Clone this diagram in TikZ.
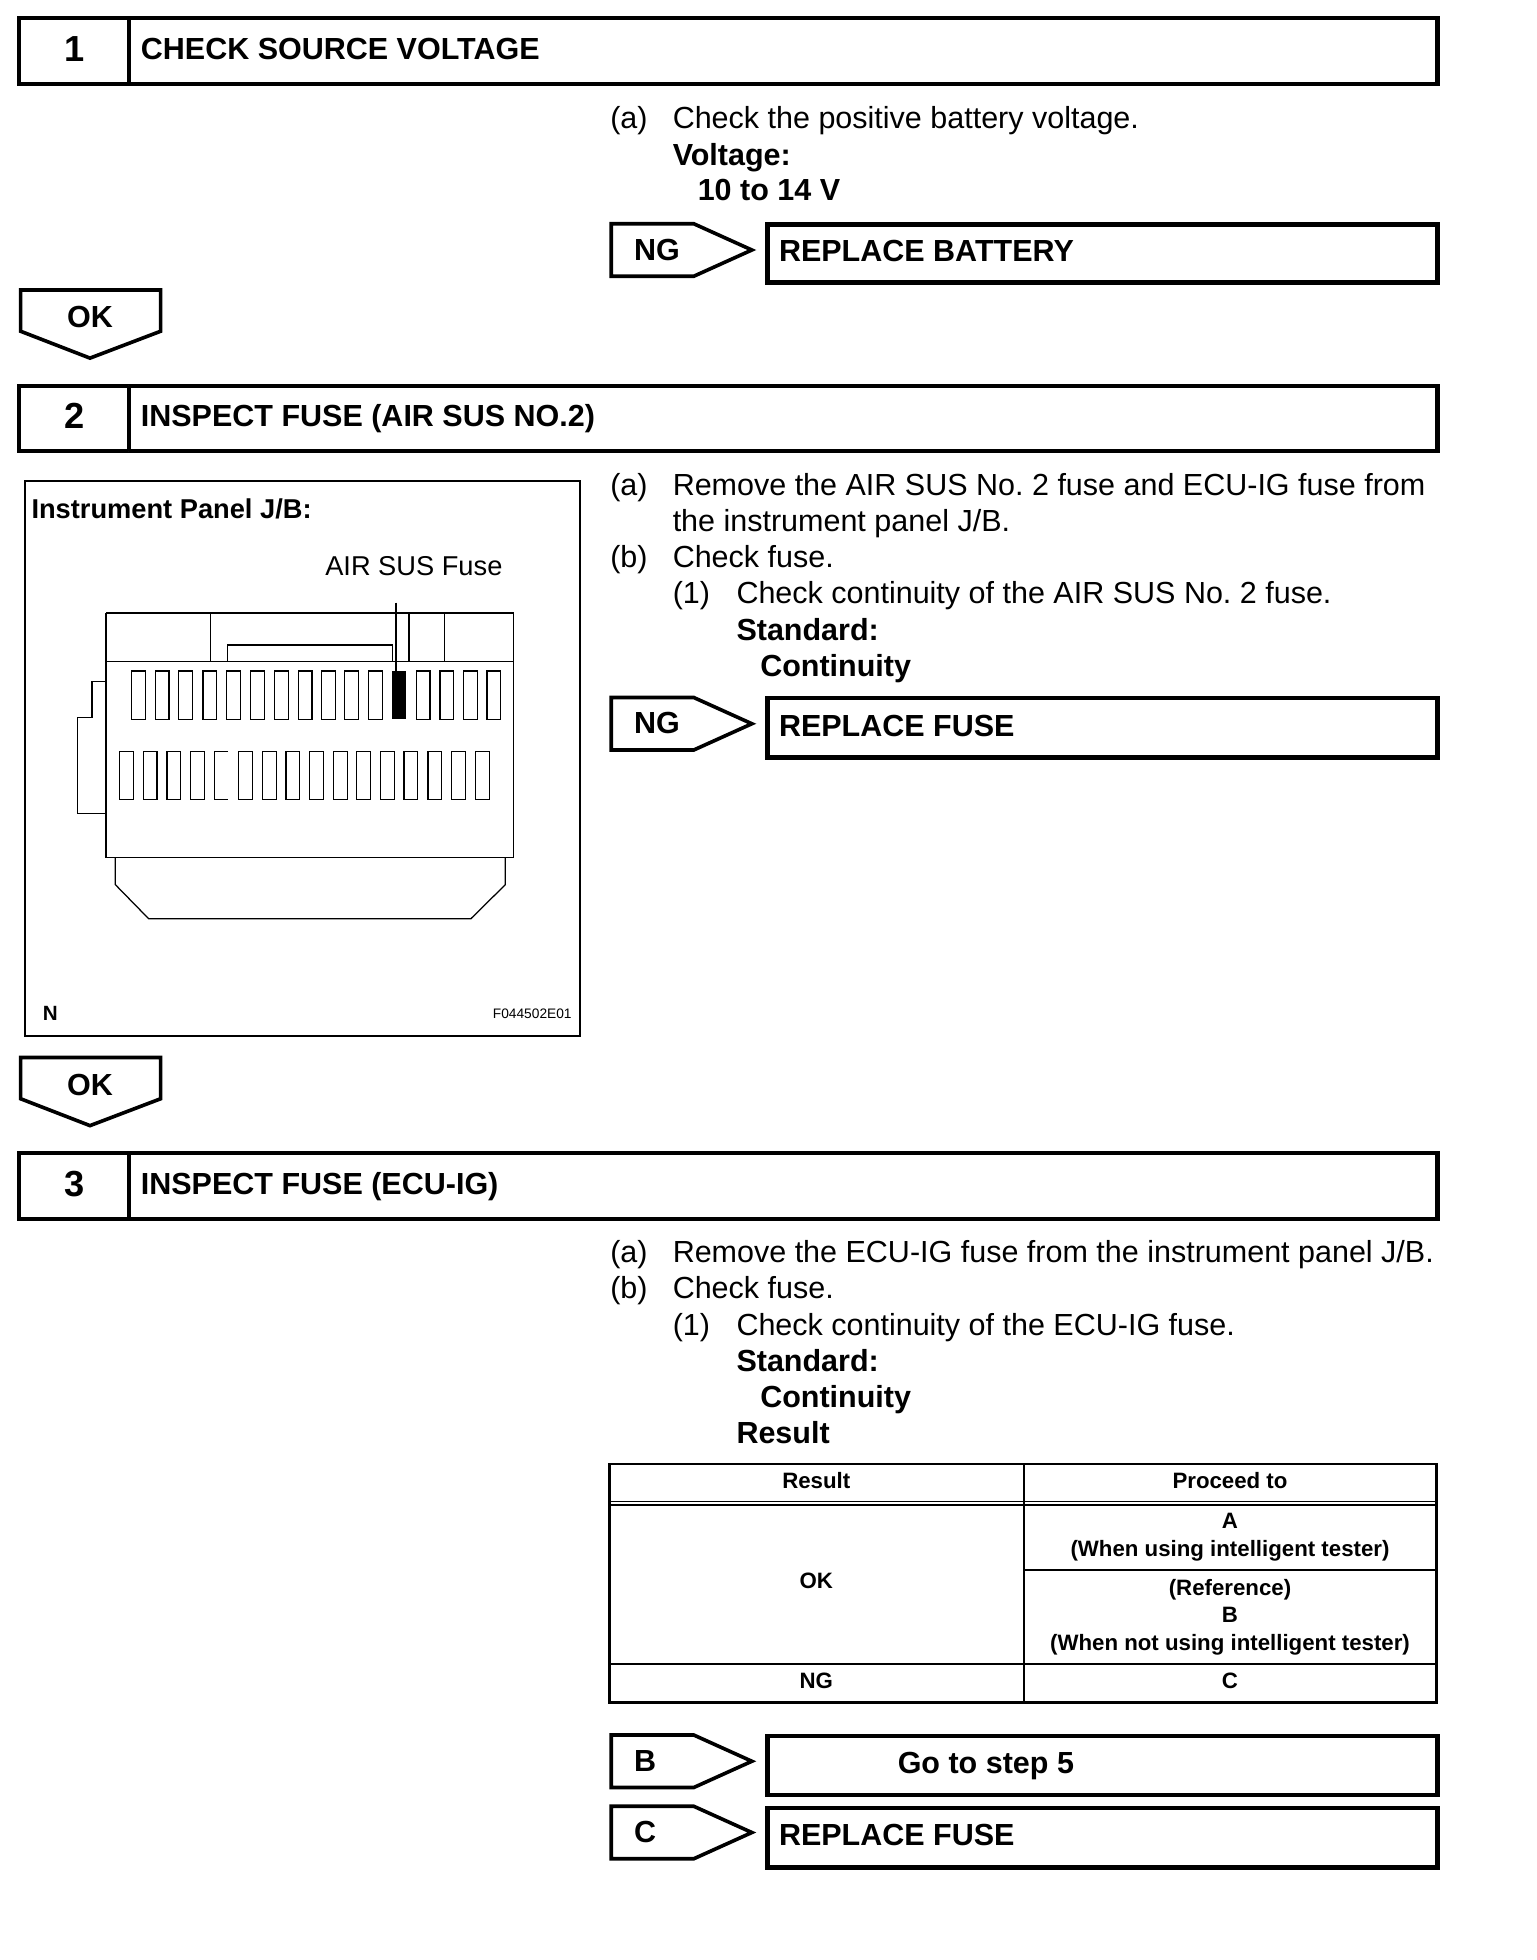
\documentclass[tikz,border=0pt]{standalone}
\usepackage{fontspec}
\setmainfont{Liberation Sans}
\frenchspacing
\tikzset{
  hdr/.style={draw=black,line width=3.4pt,fill=white},
  res/.style={draw=black,line width=3.4pt},
  tag/.style={draw=black,line width=2.9pt,line join=miter},
  txt/.style={anchor=base west,inner sep=0pt,font=\fontsize{24.4}{29}\selectfont},
  btxt/.style={txt,font=\fontsize{24.4}{29}\selectfont\bfseries},
  num/.style={anchor=base,inner sep=0pt,font=\fontsize{29}{32}\selectfont\bfseries},
  cell/.style={anchor=base,inner sep=0pt,font=\fontsize{17.8}{22}\selectfont\bfseries},
  tline/.style={draw=black,line width=2pt},
  fuse/.style={draw=black,line width=1pt},
  thin/.style={draw=black,line width=1pt},
}
\newcommand{\stephead}[4]{% name, y top, number, title
  \draw[hdr] (15,#2+.5) rectangle (1150,#2+53);
  \draw[hdr] (103,#2+.5) -- (103,#2+53);
  \node[num] (#1n) at (59.5,#2+35) {#3};
  \node[btxt] (#1t) at (112.5,#2+33.5) {#4};
}
\newcommand{\oktag}[2]{% name, y top
  \draw[tag] (16.5,#2) -- (128.5,#2) -- (128.5,#2+33) -- (72,#2+54.5) -- (16.5,#2+33) -- cycle;
  \node[btxt,anchor=base] (#1) at (72,#2+30) {OK};
}
\newcommand{\sidetag}[3]{% name, y top, label
  \draw[tag] (489,#2) -- (555,#2) -- (601.5,#2+21) -- (555,#2+42) -- (489,#2+42) -- cycle;
  \node[btxt] (#1) at (507,#2+29) {#3};
}
\begin{document}
\begin{tikzpicture}[x=1pt,y=-1pt]
\useasboundingbox (0,0) rectangle (1229,1568);
\fill[white] (0,0) rectangle (1229,1568);

% ---------- step 1
\stephead{a}{14}{1}{CHECK SOURCE VOLTAGE}
\node[txt] (a1) at (488,103) {(a)};
\node[txt] (a2) at (538,103) {Check the positive battery voltage.};
\node[btxt] (a3) at (538,132) {Voltage:};
\node[btxt] (a4) at (558,160.5) {10 to 14 V};
\sidetag{ang}{179}{NG}
\draw[res] (614,179.5) rectangle (1150,226);
\node[btxt] (ar) at (623,209) {REPLACE BATTERY};
\oktag{aok}{232}

% ---------- step 2
\stephead{b}{308}{2}{INSPECT FUSE (AIR SUS NO.2)}
\node[txt] (b1) at (488,396) {(a)};
\node[txt] (b2) at (538,396) {Remove the AIR SUS No. 2 fuse and ECU-IG fuse from};
\node[txt] (b3) at (538,425) {the instrument panel J/B.};
\node[txt] (b4) at (488,454) {(b)};
\node[txt] (b5) at (538,454) {Check fuse.};
\node[txt] (b6) at (538,483) {(1)};
\node[txt] (b7) at (589,483) {Check continuity of the AIR SUS No. 2 fuse.};
\node[btxt] (b8) at (589,512) {Standard:};
\node[btxt] (b9) at (608,541) {Continuity};
\sidetag{bng}{558}{NG}
\draw[res] (614,558.5) rectangle (1150,606);
\node[btxt] (br) at (623,589) {REPLACE FUSE};

% panel
\draw[draw=black,line width=1.8pt] (20,385) rectangle (464,829);
\node[anchor=base west,inner sep=0pt,font=\fontsize{21.8}{26}\selectfont\bfseries] (p1) at (25,415) {Instrument Panel J/B:};
\node[anchor=base west,inner sep=0pt,font=\fontsize{21.8}{26}\selectfont] (p2) at (260,460) {AIR SUS Fuse};
\node[anchor=base west,inner sep=0pt,font=\fontsize{16.5}{20}\selectfont\bfseries] (p3) at (34,816) {N};
\node[anchor=base east,inner sep=0pt,font=\fontsize{11}{13}\selectfont] (p4) at (457.5,815) {F044502E01};
\begin{scope}[shift={(0.1pt,-376.4pt)},x=.3062pt,y=-.3062pt]
  \draw[thin] (277,372) rectangle (1342,1012);
  \draw[draw=black,line width=1.5pt] (277,372) -- (277,1012);
  \draw[thin] (277,499) -- (1342,499);
  \draw[thin] (550,372) -- (550,499);
  \draw[draw=black,line width=1.5pt] (1068,372) -- (1068,499);
  \draw[thin] (1161,372) -- (1161,499);
  \draw[thin] (550,499) -- (594,499) -- (594,456) -- (1026,456) -- (1026,499);
  \draw[draw=black,line width=1.5pt] (1034,345) -- (1034,525);
  \foreach \xx in {343,405,467,530,592,654,717,779,840,900,963,1087,1149,1211,1272}
    \draw[fuse] (\xx,524) rectangle ++(36,126);
  \fill[black] (1024,524) rectangle ++(37,126);
  \foreach \xx in {312,374,436,498,623,686,747,808,871,932,994,1055,1118,1180,1242}
    \draw[fuse] (\xx,735) rectangle ++(36,125);
  \draw[fuse] (596,735) -- (561,735) -- (561,860) -- (596,860);
  \draw[thin] (277,551) -- (240,551) -- (240,645) -- (202,645) -- (202,896) -- (277,896);
  \draw[thin] (301,1012) -- (301,1082) -- (388,1171) -- (1230,1171) -- (1320,1082) -- (1320,1012);
\end{scope}
\oktag{bok}{846}

% ---------- step 3
\stephead{c}{922}{3}{INSPECT FUSE (ECU-IG)}
\node[txt] (c1) at (488,1010) {(a)};
\node[txt] (c2) at (538,1010) {Remove the ECU-IG fuse from the instrument panel J/B.};
\node[txt] (c3) at (488,1039) {(b)};
\node[txt] (c4) at (538,1039) {Check fuse.};
\node[txt] (c5) at (538,1068) {(1)};
\node[txt] (c6) at (589,1068) {Check continuity of the ECU-IG fuse.};
\node[btxt] (c7) at (589,1097) {Standard:};
\node[btxt] (c8) at (608,1126) {Continuity};
\node[btxt] (c9) at (589,1155) {Result};

% table
\draw[tline] (487.5,1171) rectangle (1149,1362);
\draw[tline] (819,1171) -- (819,1362);
\draw[draw=black,line width=1pt] (487.5,1201) -- (1149,1201);
\draw[tline] (487.5,1204) -- (1149,1204);
\draw[tline] (819,1256) -- (1149,1256);
\draw[tline] (487.5,1331) -- (1149,1331);
\node[cell] (t1) at (653,1191) {Result};
\node[cell] (t2) at (984,1191) {Proceed to};
\node[cell] (t3) at (984,1223) {A};
\node[cell] (t4) at (984,1245) {(When using intelligent tester)};
\node[cell] (t5) at (653,1271) {OK};
\node[cell] (t6) at (984,1276) {(Reference)};
\node[cell] (t7) at (984,1298) {B};
\node[cell] (t8) at (984,1320) {(When not using intelligent tester)};
\node[cell] (t9) at (653,1351) {NG};
\node[cell] (t10) at (984,1351) {C};

\sidetag{cb}{1388}{B}
\draw[res] (614,1388.5) rectangle (1150,1436);
\node[btxt] (cbr) at (718,1419) {Go to step 5};
\sidetag{cc}{1445}{C}
\draw[res] (614,1446.5) rectangle (1150,1494);
\node[btxt] (ccr) at (623,1476) {REPLACE FUSE};
\end{tikzpicture}
\end{document}
